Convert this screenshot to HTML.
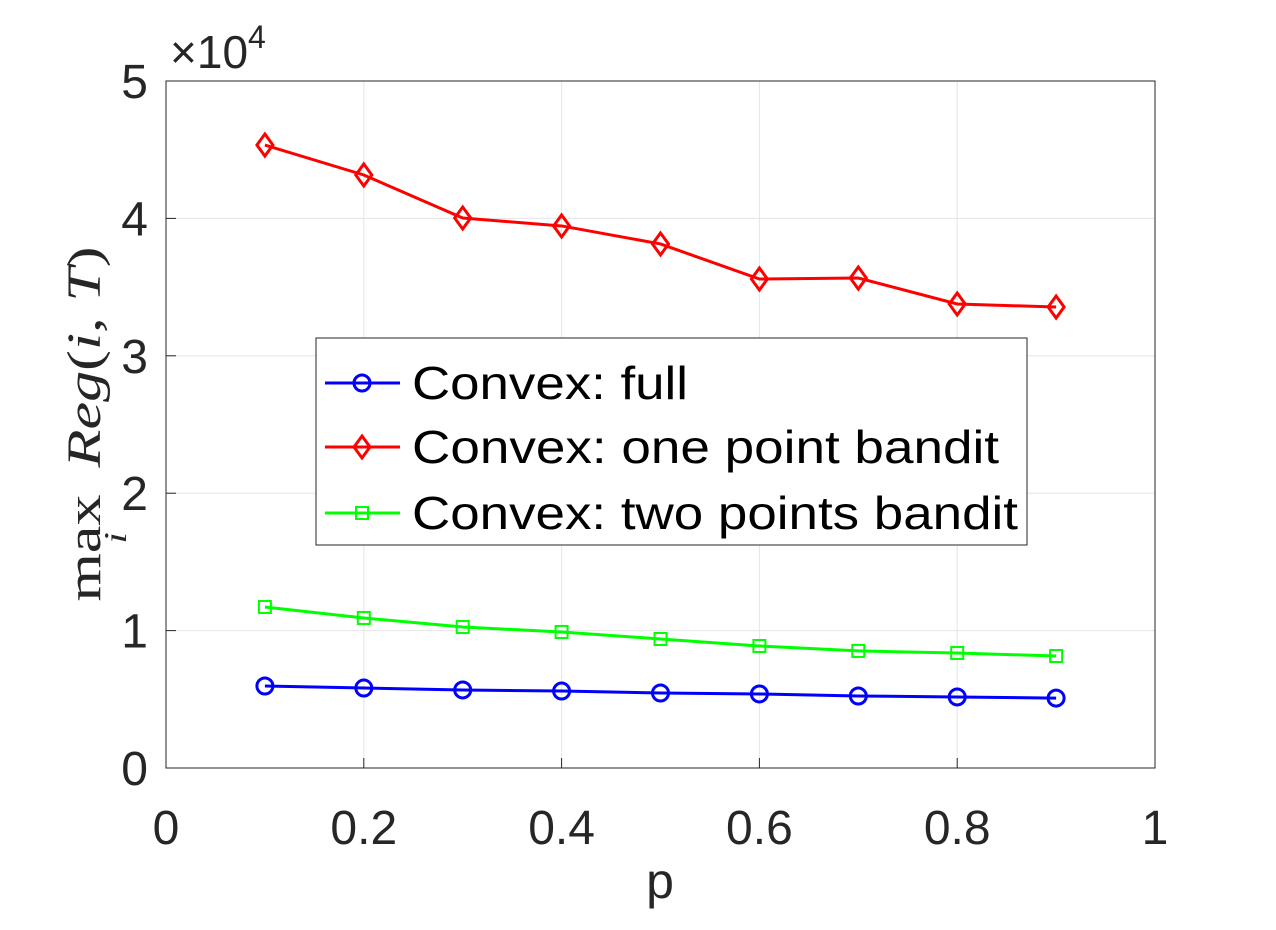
<!DOCTYPE html>
<html><head><meta charset="utf-8"><style>
body{margin:0;background:#fff;}
svg text{font-family:"Liberation Sans",sans-serif;fill:#262626;}
</style></head><body>
<svg width="1276" height="925" xmlns="http://www.w3.org/2000/svg">
<g id="grid"></g>
<rect x="166" y="81" width="989" height="687" fill="none" stroke="#262626" stroke-width="1"/>
<g id="ticks"></g>
<g id="series"></g>
<text x="170" y="68" font-size="46">×10<tspan font-size="32" dy="-20">4</tspan></text>
<text x="660" y="898" font-size="50" text-anchor="middle">p</text>
<g transform="translate(100,424) rotate(-90)">
<text x="0" y="0" text-anchor="middle" font-size="48" style="font-family:'Liberation Serif',serif" textLength="355" lengthAdjust="spacingAndGlyphs"><tspan>max</tspan><tspan font-size="32" font-style="italic" dy="26" dx="-38">i</tspan><tspan dy="-26" dx="38" font-style="italic"> Reg</tspan><tspan>(</tspan><tspan font-style="italic">i</tspan><tspan>, </tspan><tspan font-style="italic">T</tspan><tspan>)</tspan></text>
</g>
<g>
<rect x="316" y="338" width="711" height="207" fill="#fff" stroke="#262626" stroke-width="1"/>
<g><line x1="325" y1="383" x2="400" y2="383" stroke="#0000ff" stroke-width="3"/><circle cx="362" cy="383" r="8" fill="none" stroke="#0000ff" stroke-width="3"/><text x="412" y="399" font-size="46" fill="#000" style="fill:#000" textLength="276" lengthAdjust="spacingAndGlyphs">Convex: full</text></g>
<g><line x1="325" y1="447" x2="400" y2="447" stroke="#ff0000" stroke-width="3"/><path d="M362 436 L370 447 L362 458 L354 447 Z" fill="none" stroke="#ff0000" stroke-width="3"/><text x="412" y="463" font-size="46" style="fill:#000" textLength="587" lengthAdjust="spacingAndGlyphs">Convex: one point bandit</text></g>
<g><line x1="325" y1="513" x2="400" y2="513" stroke="#00ff00" stroke-width="3"/><rect x="356" y="507" width="12" height="12" fill="none" stroke="#00ff00" stroke-width="2"/><text x="412" y="529" font-size="46" style="fill:#000" textLength="606" lengthAdjust="spacingAndGlyphs">Convex: two points bandit</text></g>
</g>
</svg>
<script>
const xs=[0.1,0.2,0.3,0.4,0.5,0.6,0.7,0.8,0.9];
const full=[0.597,0.582,0.568,0.560,0.546,0.539,0.524,0.517,0.509];
const onePoint=[4.534,4.316,4.003,3.945,3.814,3.559,3.566,3.377,3.355];
const twoPoints=[1.172,1.092,1.026,0.990,0.939,0.888,0.852,0.837,0.815];
const xTicks=[0,0.2,0.4,0.6,0.8,1];
const xTickLabels=["0","0.2","0.4","0.6","0.8","1"];
const yTicks=[0,1,2,3,4,5];
const yTickLabels=["0","1","2","3","4","5"];
const NS="http://www.w3.org/2000/svg";
const X=v=>166+v*989, Y=v=>768-v*137.4;
function mk(tag,at,parent){const e=document.createElementNS(NS,tag);for(const k in at)e.setAttribute(k,at[k]);parent.appendChild(e);return e;}
const grid=document.getElementById('grid'),ticks=document.getElementById('ticks'),ser=document.getElementById('series');
xTicks.forEach((t,i)=>{
 const g=mk('line',{x1:X(t),x2:X(t),y1:81,y2:768,stroke:'#e5e5e5','stroke-width':1},grid);
 
 
 const tk=mk('line',{x1:X(t),x2:X(t),y1:768,y2:758,stroke:'#262626'},ticks);
 
 
 const l=mk('text',{x:X(t),y:844,'font-size':48,'text-anchor':'middle'},ticks);l.textContent=xTickLabels[i];
 
 
});
yTicks.forEach((t,i)=>{
 const g=mk('line',{x1:166,x2:1155,y1:Y(t),y2:Y(t),stroke:'#e5e5e5','stroke-width':1},grid);
 
 
 const tk=mk('line',{x1:166,x2:176,y1:Y(t),y2:Y(t),stroke:'#262626'},ticks);
 
 
 const l=mk('text',{x:148,y:Y(t)+17,'font-size':48,'text-anchor':'end'},ticks);l.textContent=yTickLabels[i];
 
 
});
function series(vals,color,marker,name){
 const p=mk('polyline',{points:vals.map((v,i)=>X(xs[i])+','+Y(v)).join(' '),fill:'none',stroke:color,'stroke-width':3},ser);
 
 
 vals.forEach((v,i)=>{
  const cx=X(xs[i]),cy=Y(v);let m;
  if(marker==='o')m=mk('circle',{cx:cx,cy:cy,r:8,fill:'none',stroke:color,'stroke-width':3},ser);
  else if(marker==='d')m=mk('path',{d:`M${cx} ${cy-11} L${cx+8} ${cy} L${cx} ${cy+11} L${cx-8} ${cy} Z`,fill:'none',stroke:color,'stroke-width':3},ser);
  else m=mk('rect',{x:cx-6,y:cy-6,width:12,height:12,fill:'none',stroke:color,'stroke-width':2},ser);
  
  
 });
}
series(full,'#0000ff','o','full');
series(onePoint,'#ff0000','d','one-point');
series(twoPoints,'#00ff00','s','two-points');
</script>
</body></html>
